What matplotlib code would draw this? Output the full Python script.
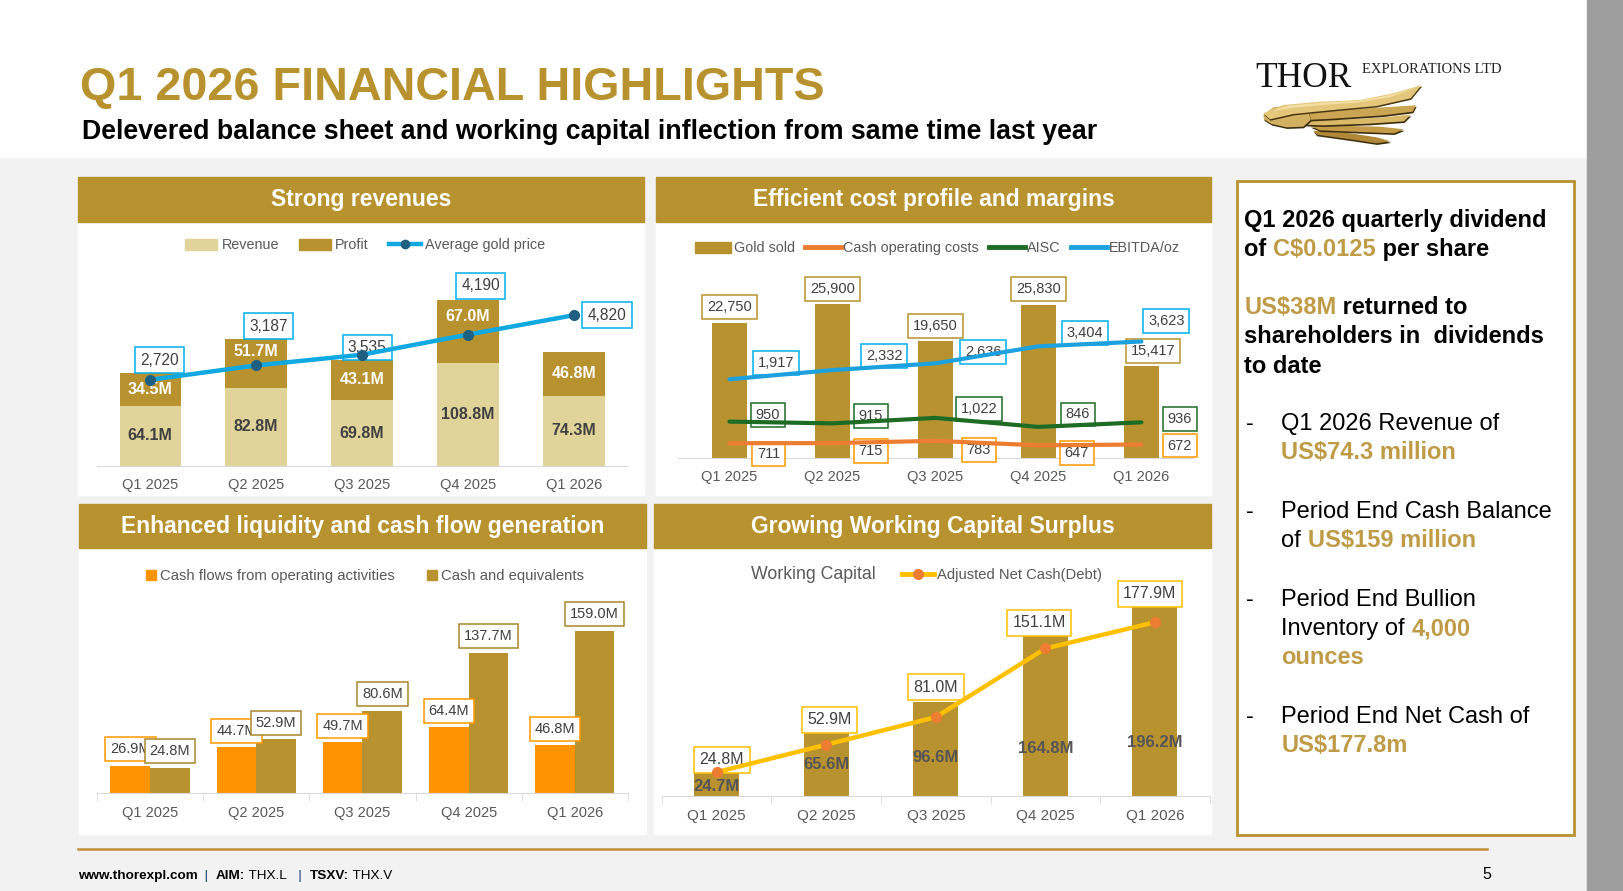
import matplotlib
matplotlib.use("Agg")
import matplotlib.pyplot as plt
from matplotlib.patches import Rectangle, Polygon, Patch
from matplotlib.lines import Line2D
import numpy as np

plt.rcParams['font.family'] = ['Liberation Sans', 'DejaVu Sans']

# layout is measured on a 1568x861 grid, output is 1623x891
W, H = 1568, 861
PT = 1623 / 1568 * 0.72   # layout px -> points

GOLD = '#B8922F'
LIGHT = '#E0D49A'
TEXT = '#404040'
GREY = '#595959'
PANEL_GOLD = '#BF9B48'

QUARTERS = ['Q1 2025', 'Q2 2025', 'Q3 2025', 'Q4 2025', 'Q1 2026']
REVENUE = [64.1, 82.8, 69.8, 108.8, 74.3]
PROFIT = [34.5, 51.7, 43.1, 67.0, 46.8]
GOLD_PRICE = [2720, 3187, 3535, 4190, 4820]
GOLD_SOLD = [22750, 25900, 19650, 25830, 15417]
CASH_COST = [711, 715, 783, 647, 672]
AISC = [950, 915, 1022, 846, 936]
EBITDA_OZ = [1917, 2332, 2636, 3404, 3623]
OP_CASH_FLOW = [26.9, 44.7, 49.7, 64.4, 46.8]
CASH = [24.8, 52.9, 80.6, 137.7, 159.0]
WORKING_CAPITAL = [24.7, 65.6, 96.6, 164.8, 196.2]
NET_CASH = [24.8, 52.9, 81.0, 151.1, 177.9]

# label nudges (layout px)
PROFIT_LABEL_FRAC = [0.5, 0.75, 0.5, 0.75, 0.5]
PRICE_OFF = [(9, -19), (12, -38), (5, -7), (12, -47), (32, 0)]
SOLD_OFF = [(0, -15), (0, -15), (0, -15), (0, -15), (11, -15)]
EBITDA_OFF = [(45, -16), (50, -14), (46, -11), (45, -13), (24, -20)]
AISC_OFF = [(37, -6), (37, -7), (42, -9), (38, -12), (37, -3)]
CASH_OFF = [(38, 10), (37, 8), (42, 9), (37, 7), (37, 1)]
WC_LABEL_FRAC = [0.42, 0.5, 0.41, 0.3, 0.28]
NET_OFF = [(5, -12), (3, -12), (0, -14), (-6, -12), (-5, -10)]

fig = plt.figure(figsize=(16.23, 8.91), dpi=100)
fig.patch.set_facecolor('#F2F2F2')
renderer = fig.canvas.get_renderer()


def fx(x):
    return x / W


def fy(y):
    return 1 - y / H


def rect(x0, y0, x1, y1, z=-5, **kw):
    fig.add_artist(Rectangle((fx(x0), fy(y1)), (x1 - x0) / W, (y1 - y0) / H,
                             transform=fig.transFigure, zorder=z, **kw))


def logo_poly(pts, color, dx=0.0, dy=0.0):
    # wing outline is sketched on a 3x grid anchored at (1250, 80) of the full-size slide
    xy = [(fx((1250 + a / 3) * W / 1623 + dx), fy((80 + b / 3) * W / 1623 + dy)) for a, b in pts]
    fig.add_artist(Polygon(xy, closed=True, transform=fig.transFigure, color=color, lw=0))


def text_width(t):
    return t.get_window_extent(renderer).width * W / fig.bbox.width


def runs(x, y, parts, size=17):
    cx = x
    for s, color, weight in parts:
        fig.text(fx(cx), fy(y), s, color=color, fontsize=size, fontweight=weight,
                 va='baseline', ha='left')
        probe = fig.text(0, 0, s + '.', fontsize=size, fontweight=weight)
        dot = fig.text(0, 0, '.', fontsize=size, fontweight=weight)
        cx += text_width(probe) - text_width(dot)
        probe.remove()
        dot.remove()


def axes_at(x0, y0, x1, y1):
    ax = fig.add_axes([fx(x0), fy(y1), (x1 - x0) / W, (y1 - y0) / H])
    ax.patch.set_alpha(0)
    for side in ['top', 'left', 'right']:
        ax.spines[side].set_visible(False)
    ax.spines['bottom'].set_color('#D9D9D9')
    ax.set_yticks([])
    ax.set_xlim(-0.5, 4.5)
    ax.set_xticks(range(len(QUARTERS)))
    ax.set_xticklabels(QUARTERS, fontsize=10.5, color=GREY)
    ax.tick_params(axis='x', length=0, pad=9)
    return ax


def overlay(ax):
    o = fig.add_axes(ax.get_position(), sharex=ax)
    o.set_axis_off()
    return o


def boxed(ax, x, y, s, ec, dx, dy, size=10.5, z=2):
    ax.annotate(s, (x, y), xytext=(dx * PT, -dy * PT), textcoords='offset points',
                ha='center', va='center', fontsize=size, color=TEXT, zorder=z,
                bbox=dict(boxstyle='square,pad=0.34', fc='white', ec=ec, lw=1.1))


# ---- page background ----
rect(0, 0, 1533, 152, color='white')
rect(1533, 0, 1568, 861, color='#9E9E9E')

t = fig.text(fx(77), fy(97), 'Q1 2026 FINANCIAL HIGHLIGHTS', color=GOLD,
             fontsize=34, fontweight='bold', va='baseline')
t.set_fontsize(t.get_fontsize() * 720 / text_width(t))
t = fig.text(fx(79), fy(134), 'Delevered balance sheet and working capital inflection from same time last year',
             color='black', fontsize=18, fontweight='bold', va='baseline')
t.set_fontsize(t.get_fontsize() * 985 / text_width(t))

# logo: wordmark and a swept gold wing
fig.text(fx(1213), fy(84), 'THOR', family='Liberation Serif', fontsize=25.5, va='baseline', color='#111111')
fig.text(fx(1316), fy(71), 'EXPLORATIONS LTD', family='Liberation Serif', fontsize=10.5,
         va='baseline', color='#222222')
feathers = [
    [(190, 152), (300, 160), (380, 172), (422, 184), (380, 190), (300, 178), (200, 164)],
    [(180, 138), (300, 138), (390, 140), (462, 148), (432, 160), (330, 156), (210, 151)],
    [(160, 122), (300, 118), (400, 112), (482, 104), (462, 124), (360, 131), (220, 136), (160, 134)],
    [(120, 102), (250, 92), (400, 82), (498, 76), (488, 95), (400, 106), (250, 116), (130, 122)],
]
lobe = [(40, 104), (70, 82), (130, 76), (175, 92), (182, 120), (160, 140), (110, 142), (65, 132), (42, 118)]
top = [(40, 100), (100, 75), (200, 66), (330, 60), (430, 40), (515, 15), (482, 55), (380, 78),
       (250, 90), (130, 102), (60, 118)]
for f, c in zip(feathers, ['#B08838', '#C49C48', '#D9B867', '#CBA552']):
    logo_poly(f, '#3E2E10', dx=0.6, dy=1.6)
    logo_poly(f, c)
logo_poly(lobe, '#3E2E10', dx=0.6, dy=1.6)
logo_poly(lobe, '#D2B061')
logo_poly(top, '#4A3712', dx=0.6, dy=1.4)
logo_poly(top, '#E4C77A')
logo_poly([(60, 95), (120, 76), (220, 68), (330, 62), (430, 43), (505, 20), (420, 52), (320, 68),
           (200, 76), (110, 86)], '#F3E0A4')

# panels
for x0, y0, x1, y1, hb, title in [
    (75, 171, 622, 478, 215, 'Strong revenues'),
    (634, 171, 1170, 478, 215, 'Efficient cost profile and margins'),
    (76, 487, 624, 806, 530, 'Enhanced liquidity and cash flow generation'),
    (632, 487, 1170, 806, 530, 'Growing Working Capital Surplus'),
]:
    rect(x0, hb, x1, y1, color='white')
    rect(x0, y0, x1, hb, color=GOLD)
    fig.text(fx((x0 + x1) / 2), fy((y0 + hb) / 2), title, color='white', fontsize=16.5,
             fontweight='bold', ha='center', va='center')

# ---- chart 1: strong revenues ----
x = np.arange(len(QUARTERS))
ax1 = axes_at(94, 260, 605.7, 450.2)
ax1.set_ylim(0, 209)
ax1.bar(x, REVENUE, 0.58, color=LIGHT)
ax1.bar(x, PROFIT, 0.58, bottom=REVENUE, color=GOLD)
for i in x:
    ax1.text(i, REVENUE[i] / 2, f'{REVENUE[i]:.1f}M', ha='center', va='center',
             fontsize=11.5, fontweight='bold', color=TEXT)
    ax1.text(i, REVENUE[i] + PROFIT[i] * PROFIT_LABEL_FRAC[i], f'{PROFIT[i]:.1f}M', ha='center',
             va='center', fontsize=11.5, fontweight='bold', color='white')
p1 = overlay(ax1)
p1.set_ylim(-80, 6320)
p1.plot(x, GOLD_PRICE, color='#10A8E0', lw=3.2, marker='o', ms=7, mfc='#1F5F82', mec='#1F5F82', zorder=4)
for i in x:
    boxed(p1, i, GOLD_PRICE[i], f'{GOLD_PRICE[i]:,}', '#00B0F0', *PRICE_OFF[i], size=11.2)
fig.legend([Patch(color=LIGHT), Patch(color=GOLD),
            Line2D([], [], color='#10A8E0', lw=3.2, marker='o', ms=6, mfc='#1F5F82', mec='#1F5F82')],
           ['Revenue', 'Profit', 'Average gold price'], loc='center',
           bbox_to_anchor=(fx(353), fy(237)), ncol=3, frameon=False, fontsize=10.4,
           labelcolor=GREY, handlelength=2.2, handleheight=0.8, columnspacing=1.4, handletextpad=0.3)

# ---- chart 2: cost profile ----
ax2 = axes_at(655, 260, 1152.5, 442.1)
ax2.set_ylim(0, 31836)
ax2.bar(x, GOLD_SOLD, 0.34, color=GOLD)
for i in x:
    boxed(ax2, i, GOLD_SOLD[i], f'{GOLD_SOLD[i]:,}', GOLD, *SOLD_OFF[i])
for vals, lim, color, ec, offs in [
    (CASH_COST, (275, 6029), '#ED7D31', '#FF9900', CASH_OFF),
    (AISC, (249, 3927), '#1E6B24', '#1E6B24', AISC_OFF),
    (EBITDA_OZ, (-1617, 6896), '#1DA1DE', '#00B0F0', EBITDA_OFF),
]:
    o = overlay(ax2)
    o.set_ylim(*lim)
    o.plot(x, vals, color=color, lw=3, zorder=4, solid_capstyle='round')
    for i in x:
        boxed(o, i, vals[i], f'{vals[i]:,}', ec, *offs[i])
fig.legend([Patch(color=GOLD), Line2D([], [], color='#ED7D31', lw=3.5),
            Line2D([], [], color='#1E6B24', lw=3.5), Line2D([], [], color='#1DA1DE', lw=3.5)],
           ['Gold sold', 'Cash operating costs', 'AISC', 'EBITDA/oz'], loc='center',
           bbox_to_anchor=(fx(906), fy(240)), ncol=4, frameon=False, fontsize=10.4,
           labelcolor=GREY, handlelength=2.5, handleheight=0.8, columnspacing=0.7, handletextpad=0.15)

# ---- chart 3: liquidity ----
ax3 = axes_at(93.7, 580, 606.7, 766.4)
ax3.set_ylim(0, 189)
bw = 0.373
ax3.bar(x - bw / 2, OP_CASH_FLOW, bw, color='#FF9300')
ax3.bar(x + bw / 2, CASH, bw, color=GOLD)
ax3.set_xticks(np.arange(-0.5, 5), minor=True)
ax3.tick_params(axis='x', which='minor', length=6, color='#D9D9D9')
for i in x:
    boxed(ax3, i - bw / 2, OP_CASH_FLOW[i], f'{OP_CASH_FLOW[i]:.1f}M', '#FF9900', 0, -16)
    boxed(ax3, i + bw / 2, CASH[i], f'{CASH[i]:.1f}M', '#A8862B', 0, -16)
fig.legend([Line2D([], [], ls='none', marker='s', ms=7, color='#FF9300'),
            Line2D([], [], ls='none', marker='s', ms=7, color=GOLD)],
           ['Cash flows from operating activities', 'Cash and equivalents'], loc='center',
           bbox_to_anchor=(fx(353), fy(557)), ncol=2, frameon=False, fontsize=10.7,
           labelcolor=GREY, handlelength=0.6, columnspacing=2.2, handletextpad=0.3)

# ---- chart 4: working capital ----
ax4 = axes_at(639.5, 575, 1168.7, 769.6)
ax4.set_ylim(0, 205.7)
ax4.bar(x, WORKING_CAPITAL, 0.41, color=GOLD)
ax4.set_xticks(np.arange(-0.5, 5), minor=True)
ax4.tick_params(axis='x', which='minor', length=6, color='#D9D9D9')
ax4.tick_params(axis='x', labelsize=11)
for i in x:
    ax4.text(i, WORKING_CAPITAL[i] * WC_LABEL_FRAC[i], f'{WORKING_CAPITAL[i]:.1f}M', ha='center',
             va='center', fontsize=12, fontweight='bold', color='#555555', zorder=3)
    boxed(ax4, i, WORKING_CAPITAL[i], f'{NET_CASH[i]:.1f}M', '#FFC000', *NET_OFF[i], size=11.5)
ax4.plot(x, NET_CASH, color='#FFC000', lw=3.2, marker='o', ms=7, mfc='#ED7D31', mec='#ED7D31', zorder=4)
leg = fig.legend([Patch(fc='none', ec='none'),
                  Line2D([], [], color='#FFC000', lw=3.5, marker='o', ms=7, mfc='#ED7D31', mec='#ED7D31')],
                 ['Working Capital', 'Adjusted Net Cash(Debt)'], loc='center',
                 bbox_to_anchor=(fx(878), fy(555)), ncol=2, frameon=False, fontsize=10.6,
                 labelcolor=GREY, handlelength=2.2, columnspacing=1.8, handletextpad=0.2)
leg.get_texts()[0].set_fontsize(12.8)

# ---- right panel ----
rect(1195.5, 174.5, 1520.5, 807, fc='white', ec=GOLD, lw=2)
B, N = 'bold', 'normal'
runs(1202, 219, [('Q1 2026 quarterly dividend', 'black', B)])
runs(1202, 247, [('of ', 'black', B), ('C$0.0125', PANEL_GOLD, B), (' per share', 'black', B)])
runs(1202, 303, [('US$38M', PANEL_GOLD, B), (' returned to', 'black', B)])
runs(1202, 331, [('shareholders in  dividends', 'black', B)])
runs(1202, 360, [('to date', 'black', B)])
bullets = [
    (416, [[('Q1 2026 Revenue of', 'black', N)], [('US$74.3 million', PANEL_GOLD, B)]]),
    (501, [[('Period End Cash Balance', 'black', N)],
           [('of ', 'black', N), ('US$159 million', PANEL_GOLD, B)]]),
    (586, [[('Period End Bullion', 'black', N)],
           [('Inventory of ', 'black', N), ('4,000', PANEL_GOLD, B)],
           [('ounces', PANEL_GOLD, B)]]),
    (699, [[('Period End Net Cash of', 'black', N)], [('US$177.8m', PANEL_GOLD, B)]]),
]
for y0, lines in bullets:
    runs(1204, y0, [('-', 'black', N)])
    for k, parts in enumerate(lines):
        runs(1238, y0 + 28 * k, parts)

# ---- footer ----
fig.add_artist(Line2D([fx(75), fx(1437)], [fy(820), fy(820)], transform=fig.transFigure,
                      color='#BF9038', lw=1.8))
runs(75, 849, [('www.thorexpl.com', 'black', B), ('  |  ', '#1F3F7A', N), ('AIM:', 'black', B),
               (' THX.L', 'black', N), ('   |  ', '#1F3F7A', N), ('TSXV:', 'black', B),
               (' THX.V', 'black', N)], size=9.7)
fig.text(fx(1432), fy(849), '5', fontsize=11.5, va='baseline', color='black')

fig.savefig('out.png', dpi=100, facecolor=fig.get_facecolor())
